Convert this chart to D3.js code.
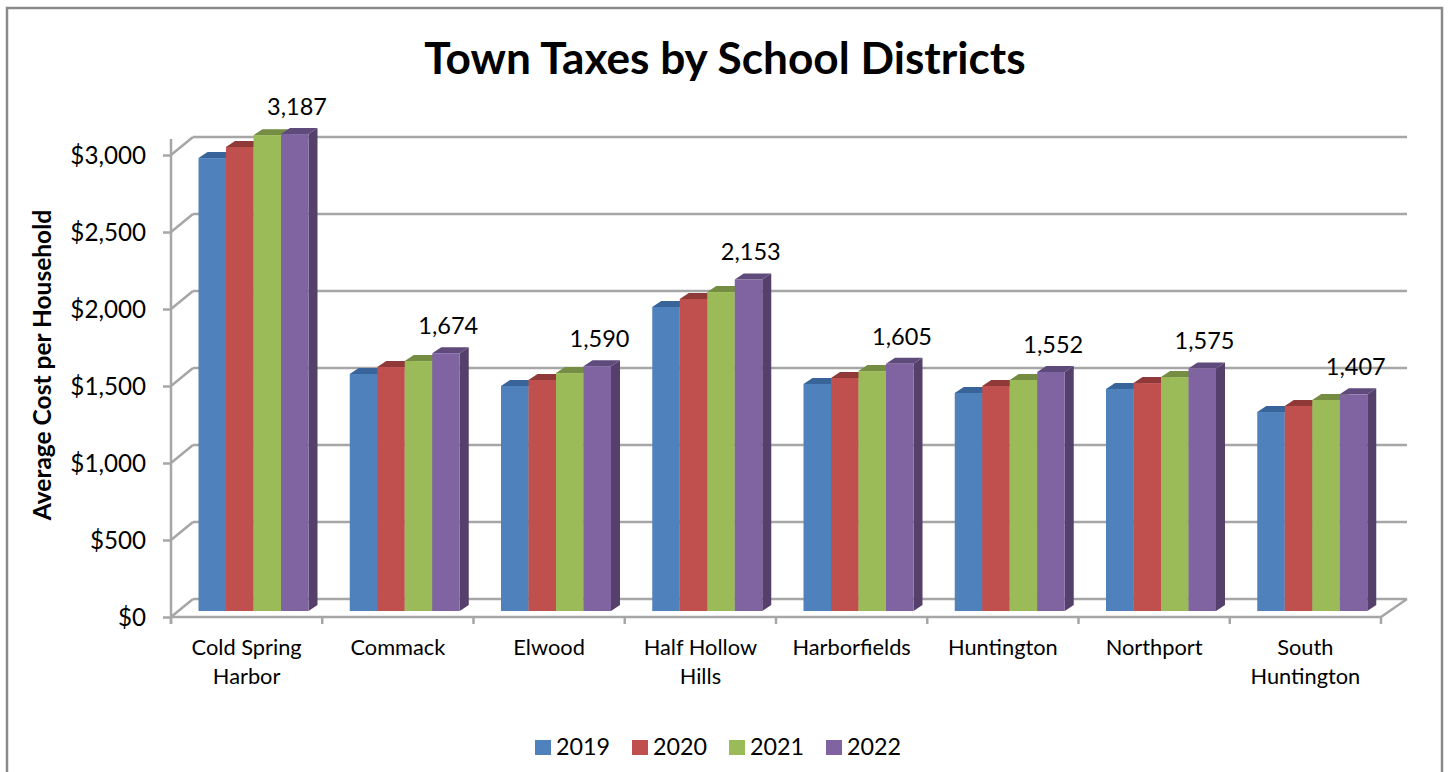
<!DOCTYPE html>
<html><head><meta charset="utf-8">
<script src="https://cdn.jsdelivr.net/npm/d3@7"></script>
<style>html,body{margin:0;padding:0;background:#fff}svg{display:block}text{font-family:Lato,"Open Sans",sans-serif;fill:#000}</style>
</head><body><svg id="c" width="1448" height="772"></svg>
<script>
const categories = ["Cold Spring\nHarbor","Commack","Elwood","Half Hollow\nHills","Harborfields","Huntington","Northport","South\nHuntington"];
const years = ["2019","2020","2021","2022"];
const v2019 = [2941,1539,1461,1974,1474,1416,1442,1292];
const v2020 = [3013,1584,1500,2026,1513,1461,1480,1331];
const v2021 = [3090,1623,1545,2071,1558,1500,1519,1370];
const v2022 = [3187,1674,1590,2153,1605,1552,1575,1407];
const series = [v2019,v2020,v2021,v2022];
const yTicks = [0,500,1000,1500,2000,2500,3000];
const plotClip = 3097;
const front = ["#4f81bd","#c0504d","#9bbb59","#8064a2"];
const topc = ["#38649a","#8f3a38","#748d43","#5f4a7c"];
const sidec = ["#335a88","#833432","#6a813d","#553f6b"];

const svg = d3.select("#c");
svg.append("rect").attr("x",7).attr("y",8).attr("width",1435).attr("height",800).attr("fill","#fff").attr("stroke","#8a8a8a").attr("stroke-width",2.5);

const x = d3.scaleBand().domain(categories).range([171,1381]);
const y = d3.scaleLinear().domain([0,3000]).range([617,155]);
const wallDx = 22, wallDy = 18, barDy = 6, barDepth = 9, barOffset = 27.5;
const sub = d3.scaleBand().domain(years).range([0,110]);
const grid = "#a6a6a6";

// back wall gridlines and floor/side diagonals
const g = svg.append("g").attr("fill","none").attr("stroke",grid).attr("stroke-width",2.5);
yTicks.forEach(t=>{
  g.append("line").attr("x1",171).attr("x2",171+wallDx).attr("y1",y(t)).attr("y2",y(t)-wallDy);
  g.append("line").attr("x1",171+wallDx).attr("x2",1407).attr("y1",y(t)-wallDy).attr("y2",y(t)-wallDy);
});
g.append("line").attr("x1",1381).attr("x2",1407).attr("y1",y(0)).attr("y2",y(0)-wallDy);

// axes
const axY = svg.append("g").attr("transform","translate(171,0)")
  .call(d3.axisLeft(y).tickValues(yTicks).tickSize(8).tickPadding(17).tickFormat(d=>"$"+d3.format(",")(d)));
axY.select(".domain").remove();
axY.append("line").attr("x1",0).attr("x2",0).attr("y1",139).attr("y2",y(0)+7);
const axX = svg.append("g").attr("transform",`translate(0,${y(0)})`)
  .call(d3.axisBottom(x).tickSizeOuter(0).tickSize(0).tickFormat(""));
axX.select(".domain").remove();
axX.append("line").attr("x1",171).attr("x2",1381).attr("y1",0).attr("y2",0);
d3.range(categories.length+1).forEach(i=>{
  const px = i<categories.length ? x(categories[i]) : x.range()[1];
  axX.append("line").attr("x1",px).attr("x2",px).attr("y1",0).attr("y2",7);
});
svg.selectAll("g line").attr("stroke",grid).attr("stroke-width",2.5);
axY.selectAll("text").style("font-size","24.2px").attr("dy","0.35em");

categories.forEach(c=>{
  const lines = c.split("\n");
  const t = svg.append("text").attr("text-anchor","middle").style("font-size","21.8px");
  lines.forEach((l,i)=>t.append("tspan").attr("x",x(c)+x.bandwidth()/2).attr("y",655+i*28.5).text(l));
});

// bars
const yb = v => y(Math.min(v,plotClip)) - barDy;
const bars = svg.append("g");
categories.forEach((c,ci)=>{
  const x0 = x(c)+barOffset;
  years.forEach((yr,si)=>{
    const v = series[si][ci], bx = x0+sub(yr), w = sub.bandwidth();
    const t = yb(v), b = y(0)-barDy;
    bars.append("path").attr("fill",sidec[si]).attr("d",`M${bx+w},${t}L${bx+w+barDepth},${t-barDy}L${bx+w+barDepth},${b-barDy}L${bx+w},${b}Z`);
    bars.append("path").attr("fill",topc[si]).attr("d",`M${bx},${t}L${bx+barDepth},${t-barDy}L${bx+w+barDepth},${t-barDy}L${bx+w},${t}Z`);
    bars.append("rect").attr("fill",front[si]).attr("x",bx).attr("y",t).attr("width",w).attr("height",b-t);
  });
  const last = v2022[ci];
  svg.append("text").attr("text-anchor","middle").attr("x",x(c)+126).attr("y",yb(last)-19).style("font-size","23.5px").text(d3.format(",")(last));
});

// title
svg.append("text").attr("text-anchor","middle").attr("x",725).attr("y",74).style("font-size","44.2px").style("font-weight","700").text("Town Taxes by School Districts");
svg.append("text").attr("text-anchor","middle").attr("transform","translate(51,365) rotate(-90)").style("font-size","24.5px").style("font-weight","700").text("Average Cost per Household");

// legend
const legX = d3.scalePoint().domain(years).range([535,826]);
years.forEach((yr,i)=>{
  svg.append("rect").attr("x",legX(yr)).attr("y",740).attr("width",16).attr("height",15).attr("fill",front[i]);
  svg.append("text").attr("x",legX(yr)+21).attr("y",755).style("font-size","23.3px").text(yr);
});
</script></body></html>
